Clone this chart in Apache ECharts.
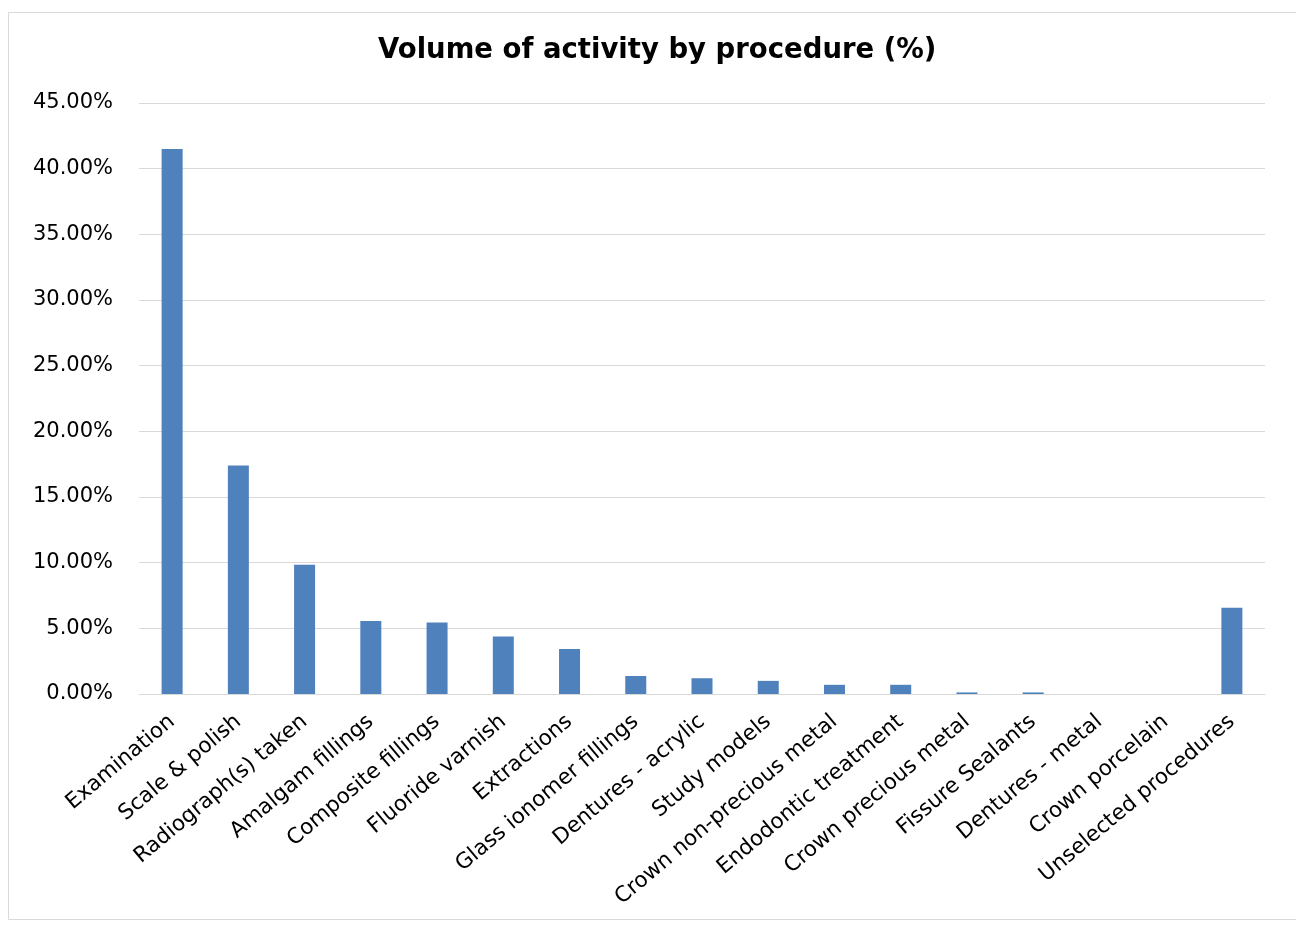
<!DOCTYPE html>
<html>
<head>
<meta charset="utf-8">
<script src="https://cdn.jsdelivr.net/npm/echarts@6/dist/echarts.min.js"></script>
<style>
html,body{margin:0;padding:0;background:#fff;}
#chart{width:1296px;height:925px;}
</style>
</head>
<body>
<div id="chart"></div>
<script>
const categories = [
  'Examination', 'Scale & polish', 'Radiograph(s) taken', 'Amalgam fillings',
  'Composite fillings', 'Fluoride varnish', 'Extractions', 'Glass ionomer fillings',
  'Dentures - acrylic', 'Study models', 'Crown non-precious metal', 'Endodontic treatment',
  'Crown precious metal', 'Fissure Sealants', 'Dentures - metal', 'Crown porcelain',
  'Unselected procedures'
];
const values = [41.5, 17.4, 9.85, 5.55, 5.45, 4.37, 3.43, 1.37, 1.2, 1.0, 0.7, 0.7, 0.12, 0.12, 0, 0, 6.56];
const titleText = 'Volume of activity by procedure (%)';
const yMin = 0, yMax = 45, yStep = 5;

const chart = echarts.init(document.getElementById('chart'));
chart.setOption({
  animation: false,
  backgroundColor: '#fff',
  title: {
    text: titleText,
    left: 373,
    top: 32,
    textStyle: { fontFamily: 'DejaVu Sans', fontWeight: 'bold', fontSize: 27.5, color: '#000' }
  },
  graphic: [{
    type: 'rect',
    shape: { x: 8.5, y: 12.5, width: 1300, height: 907 },
    style: { fill: 'none', stroke: '#d9d9d9', lineWidth: 1 },
    silent: true
  }],
  grid: { left: 139, right: 31, top: 103, bottom: 231, containLabel: false },
  xAxis: {
    type: 'category',
    data: categories,
    axisLine: { lineStyle: { color: '#d9d9d9', width: 1 } },
    axisTick: { show: false },
    axisLabel: {
      interval: 0,
      rotate: 40,
      margin: 25,
      fontFamily: 'DejaVu Sans',
      fontSize: 21.5,
      color: '#000'
    }
  },
  yAxis: {
    type: 'value',
    min: yMin, max: yMax, interval: yStep,
    axisLine: { show: false },
    axisTick: { show: false },
    splitLine: { lineStyle: { color: '#d9d9d9', width: 1 } },
    axisLabel: {
      margin: 26,
      fontFamily: 'DejaVu Sans',
      fontSize: 21,
      color: '#000',
      formatter: v => v.toFixed(2) + '%'
    }
  },
  series: [{
    type: 'bar',
    data: values,
    barWidth: 21,
    itemStyle: { color: '#4F81BD' }
  }]
});
</script>
</body>
</html>
